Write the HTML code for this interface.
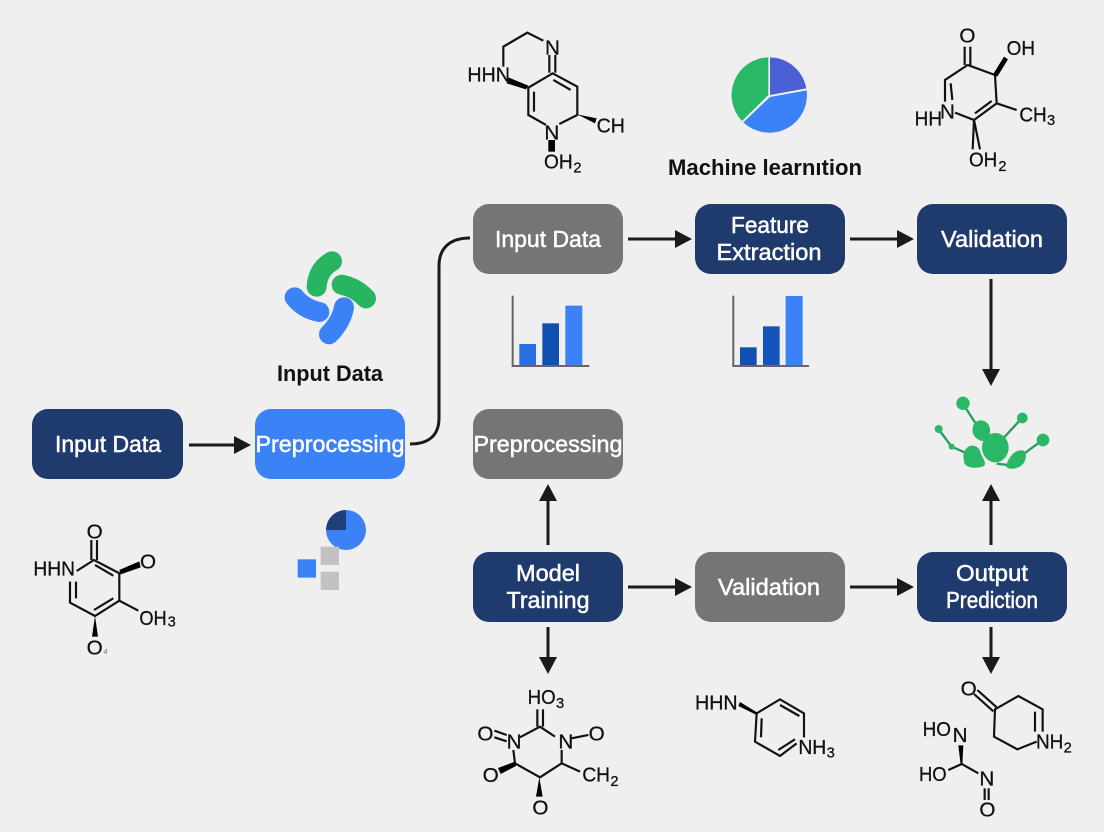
<!DOCTYPE html>
<html>
<head>
<meta charset="utf-8">
<style>
html,body{margin:0;padding:0;background:#efefef;width:1104px;height:832px;overflow:hidden}
svg{display:block}
text{font-family:"Liberation Sans",sans-serif}
.n{font-size:23px;fill:#fff;stroke:#fff;stroke-width:.5px;text-anchor:middle}
.t{font-size:22px;font-weight:bold;fill:#111}
.m line,.m polyline,.m path.l{stroke:#111;stroke-width:6.5;fill:none}
.m path.w{fill:#000;stroke:none}
.m text{font-size:62px;fill:#111;stroke:#111;stroke-width:.8px}
.m text.s{font-size:44px}
.a{stroke:#1a1a1a;stroke-width:3px;fill:none}
.h{fill:#1a1a1a}
</style>
</head>
<body>
<svg width="1104" height="832" viewBox="0 0 1104 832" xmlns="http://www.w3.org/2000/svg">
<rect width="1104" height="832" fill="#efefef"/>

<!-- connectors -->
<path class="a" d="M189 445H238M628 239H679M850 239H901M991 279V374M548 545V496M628 587H679M850 587H901M991 545V496M548 627V662M991 627V662"/>
<path class="a" d="M410 444C428 444 439 436 439 418V266C439 248 450 238 470 238"/>
<g class="h">
<path d="M234 436L251 445L234 454Z"/>
<path d="M675 230L692 239L675 248Z"/>
<path d="M897 230L914 239L897 248Z"/>
<path d="M982 369L991 386L1000 369Z"/>
<path d="M539 501L548 484L557 501Z"/>
<path d="M675 578L692 587L675 596Z"/>
<path d="M897 578L914 587L897 596Z"/>
<path d="M982 501L991 484L1000 501Z"/>
<path d="M539 657L548 674L557 657Z"/>
<path d="M982 657L991 674L1000 657Z"/>
</g>

<!-- nodes -->
<rect x="32" y="409" width="151" height="70" rx="16" fill="#1f3a6d"/>
<rect x="255" y="409" width="150" height="70" rx="16" fill="#3b82f6"/>
<rect x="473" y="204" width="150" height="70" rx="16" fill="#757575"/>
<rect x="695" y="204" width="150" height="70" rx="16" fill="#1f3a6d"/>
<rect x="917" y="204" width="150" height="70" rx="16" fill="#1f3a6d"/>
<rect x="473" y="409" width="150" height="70" rx="16" fill="#757575"/>
<rect x="473" y="552" width="150" height="70" rx="16" fill="#1f3a6d"/>
<rect x="695" y="552" width="150" height="70" rx="16" fill="#757575"/>
<rect x="917" y="552" width="150" height="70" rx="16" fill="#1f3a6d"/>

<text class="n" x="108" y="452" textLength="106" lengthAdjust="spacingAndGlyphs">Input Data</text>
<text class="n" x="330" y="452" textLength="149" lengthAdjust="spacingAndGlyphs">Preprocessing</text>
<text class="n" x="548" y="247" textLength="106" lengthAdjust="spacingAndGlyphs">Input Data</text>
<text class="n" x="770" y="233" textLength="78" lengthAdjust="spacingAndGlyphs">Feature</text>
<text class="n" x="769" y="260" textLength="105" lengthAdjust="spacingAndGlyphs">Extraction</text>
<text class="n" x="992" y="247" textLength="102" lengthAdjust="spacingAndGlyphs">Validation</text>
<text class="n" x="548" y="452" textLength="149" lengthAdjust="spacingAndGlyphs">Preprocessing</text>
<text class="n" x="548" y="581" textLength="64" lengthAdjust="spacingAndGlyphs">Model</text>
<text class="n" x="548" y="608" textLength="83" lengthAdjust="spacingAndGlyphs">Training</text>
<text class="n" x="769" y="595" textLength="102" lengthAdjust="spacingAndGlyphs">Validation</text>
<text class="n" x="992" y="581" textLength="72" lengthAdjust="spacingAndGlyphs">Output</text>
<text class="n" x="992" y="608" textLength="92" lengthAdjust="spacingAndGlyphs">Prediction</text>

<text class="t" x="668" y="175" textLength="194" lengthAdjust="spacingAndGlyphs">Machine learnıtion</text>
<text class="t" x="277" y="381" textLength="106" lengthAdjust="spacingAndGlyphs">Input Data</text>

<!-- pie -->
<g transform="translate(720,45) scale(.3333)">
<path d="M150 37A113 113 0 0 1 259 130L150 150Z" fill="#4a60d4"/>
<path d="M260 136A113 113 0 0 1 70 232L150 156Z" fill="#3b82f6"/>
<path d="M66 228A113 113 0 0 1 145 37L145 150Z" fill="#28b866"/>
</g>

<!-- swirl icon -->
<g transform="translate(270,240) scale(.3333)" fill="none" stroke-width="60" stroke-linecap="round">
<path d="M186 64C158 80 142 105 140 140" stroke="#27b562"/>
<path d="M215 134C245 140 268 154 288 175" stroke="#27b562"/>
<path d="M74 172C92 195 118 210 148 216" stroke="#3b82f6"/>
<path d="M222 202C216 235 200 260 177 283" stroke="#3b82f6"/>
</g>

<!-- pie + squares -->
<g transform="translate(285,500) scale(.3333)">
<circle cx="183" cy="90" r="60" fill="#3b82f6"/>
<path d="M183 90V30A60 60 0 0 0 123 90Z" fill="#1f3f78"/>
<rect x="38" y="178" width="55" height="55" fill="#3b82f6"/>
<rect x="107" y="140" width="55" height="55" fill="#c2c2c2"/>
<rect x="107" y="215" width="55" height="55" fill="#c2c2c2"/>
</g>

<!-- bars -->
<g transform="translate(500,285) scale(.3333)">
<path d="M38 32V243H268" fill="none" stroke="#666" stroke-width="6"/>
<rect x="58" y="177" width="50" height="63" fill="#2a6fe0"/>
<rect x="127" y="115" width="50" height="125" fill="#1150b0"/>
<rect x="196" y="62" width="51" height="178" fill="#3b82f6"/>
<path d="M700 32V243H927" fill="none" stroke="#666" stroke-width="6"/>
<rect x="720" y="187" width="50" height="53" fill="#1150b0"/>
<rect x="789" y="124" width="50" height="116" fill="#1554bb"/>
<rect x="857" y="33" width="51" height="207" fill="#3b82f6"/>
</g>

<!-- green cluster -->
<g transform="translate(920,385) scale(.3333)" fill="#2bb866">
<g stroke="#2a9d5f" stroke-width="7" fill="none">
<path d="M130 58L170 120"/><path d="M305 100L250 160"/><path d="M55 132L95 185L140 205"/><path d="M368 165L300 215"/><path d="M230 236L265 240"/>
</g>
<circle cx="129" cy="55" r="20"/>
<circle cx="307" cy="99" r="16"/>
<circle cx="56" cy="132" r="12"/>
<circle cx="95" cy="185" r="9"/>
<circle cx="369" cy="165" r="19"/>
<ellipse cx="226" cy="188" rx="40" ry="44"/>
<path d="M158 130C160 102 195 98 207 122C216 142 205 170 186 168C168 162 155 150 158 130Z"/>
<path d="M130 212C133 178 170 172 180 198C185 218 202 232 192 243C172 252 138 250 132 232Z"/>
<path d="M258 244C266 212 290 190 312 197C325 210 316 246 285 250C272 253 262 250 258 244Z"/>
</g>

<!-- molecule 1 -->
<g class="m" transform="translate(440,20) scale(.3333)">
<polyline points="190,140 190,80 262,38 310,62"/>
<line x1="328" y1="105" x2="328" y2="158"/><line x1="346" y1="105" x2="346" y2="158"/>
<polyline points="318,315 265,285 265,203 338,160 412,200 412,285 358,312"/>
<line x1="282" y1="215" x2="282" y2="275"/><line x1="340" y1="180" x2="392" y2="210"/>
<path class="w" d="M205 172L265 197L258 208L200 190Z"/>
<path class="w" d="M412 283L470 295L465 310Z"/>
<path class="w" d="M325 360H345V395H325Z"/>
<text x="315" y="103">N</text>
<text x="82" y="185" textLength="128" lengthAdjust="spacingAndGlyphs">HHN</text>
<text x="313" y="358">N</text>
<text x="470" y="338" textLength="85" lengthAdjust="spacingAndGlyphs">CH</text>
<text x="312" y="445" textLength="86" lengthAdjust="spacingAndGlyphs">OH</text><text class="s" x="400" y="458">2</text>
</g>

<!-- molecule 2 -->
<g class="m" transform="translate(890,20) scale(.3333)">
<line x1="224" y1="80" x2="224" y2="135"/><line x1="241" y1="80" x2="241" y2="135"/>
<polyline points="165,245 165,180 233,135 315,165 320,250 252,300 195,278"/>
<line x1="182" y1="190" x2="187" y2="240"/><line x1="255" y1="280" x2="305" y2="243"/>
<line x1="320" y1="250" x2="380" y2="270"/>
<line x1="252" y1="300" x2="248" y2="388"/><line x1="252" y1="300" x2="270" y2="388"/>
<path class="w" d="M308 165L342 110L354 118L322 170Z"/>
<text x="208" y="68">O</text>
<text x="350" y="105" textLength="85" lengthAdjust="spacingAndGlyphs">OH</text>
<text x="74" y="317" textLength="82" lengthAdjust="spacingAndGlyphs">HH</text>
<text x="150" y="295">N</text>
<text x="388" y="305" textLength="82" lengthAdjust="spacingAndGlyphs">CH</text><text class="s" x="471" y="315">3</text>
<text x="237" y="440" textLength="85" lengthAdjust="spacingAndGlyphs">OH</text><text class="s" x="325" y="453">2</text>
</g>

<!-- molecule 3 -->
<g class="m" transform="translate(20,510) scale(.3333)">
<line x1="214" y1="90" x2="214" y2="150"/><line x1="231" y1="90" x2="231" y2="150"/>
<polyline points="170,183 222,150 298,190 298,272 225,318 150,278 150,215"/>
<line x1="225" y1="165" x2="280" y2="197"/><line x1="222" y1="300" x2="280" y2="265"/><line x1="168" y1="215" x2="168" y2="265"/>
<line x1="298" y1="272" x2="355" y2="302"/>
<path class="w" d="M298 180L358 154L362 172L302 193Z"/>
<path class="w" d="M225 318L234 380H216Z"/>
<text x="200" y="85">O</text>
<text x="360" y="176">O</text>
<text x="40" y="197" textLength="125" lengthAdjust="spacingAndGlyphs">HHN</text>
<text x="358" y="345" textLength="82" lengthAdjust="spacingAndGlyphs">OH</text><text class="s" x="443" y="350">3</text>
<text x="200" y="433">O</text>
<text x="250" y="432" style="font-size:22px;font-style:italic;fill:#777;stroke:none">4</text>
</g>

<!-- molecule 4 -->
<g class="m" transform="translate(460,680) scale(.3333)">
<line x1="232" y1="88" x2="232" y2="140"/><line x1="249" y1="88" x2="249" y2="140"/>
<polyline points="180,172 240,140 285,170"/>
<polyline points="305,210 305,250 240,292 165,250 160,210"/>
<line x1="305" y1="250" x2="360" y2="275"/>
<line x1="103" y1="152" x2="140" y2="165"/><line x1="103" y1="172" x2="140" y2="184"/>
<line x1="335" y1="175" x2="385" y2="165"/>
<path class="w" d="M165 245L168 258L122 282L114 264Z"/>
<path class="w" d="M238 292L248 350H228Z"/>
<text x="203" y="72" textLength="84" lengthAdjust="spacingAndGlyphs">HO</text><text class="s" x="288" y="84">3</text>
<text x="52" y="182">O</text>
<text x="140" y="205">N</text>
<text x="295" y="205">N</text>
<text x="386" y="182">O</text>
<text x="68" y="306">O</text>
<text x="217" y="403">O</text>
<text x="367" y="305" textLength="83" lengthAdjust="spacingAndGlyphs">CH</text><text class="s" x="451" y="318">2</text>
</g>

<!-- molecule 5 -->
<g class="m" transform="translate(680,680) scale(.3333)">
<polyline points="350,190 300,228 225,185 230,100 300,58 372,100 372,172"/>
<line x1="245" y1="115" x2="243" y2="172"/><line x1="300" y1="75" x2="358" y2="108"/><line x1="295" y1="210" x2="345" y2="178"/>
<path class="w" d="M175 78L180 66L232 98L228 104Z"/>
<text x="45" y="88" textLength="128" lengthAdjust="spacingAndGlyphs">HHN</text>
<text x="355" y="222" textLength="84" lengthAdjust="spacingAndGlyphs">NH</text><text class="s" x="440" y="232">3</text>
</g>

<!-- molecule 6 -->
<g class="m" transform="translate(900,670) scale(.3333)">
<line x1="222" y1="72" x2="280" y2="124"/><line x1="232" y1="60" x2="290" y2="112"/>
<polyline points="410,215 352,238 282,200 285,118 355,78 428,118 428,185"/>
<line x1="405" y1="125" x2="405" y2="185"/>
<line x1="185" y1="282" x2="145" y2="300"/>
<line x1="185" y1="282" x2="235" y2="310"/>
<line x1="254" y1="355" x2="254" y2="390"/><line x1="266" y1="355" x2="266" y2="390"/>
<path class="w" d="M175 226H190L187 284H182Z"/>
<text x="182" y="76">O</text>
<text x="408" y="236" textLength="82" lengthAdjust="spacingAndGlyphs">NH</text><text class="s" x="491" y="248">2</text>
<text x="68" y="198" textLength="85" lengthAdjust="spacingAndGlyphs">HO</text>
<text x="158" y="216">N</text>
<text x="57" y="333" textLength="83" lengthAdjust="spacingAndGlyphs">HO</text>
<text x="238" y="346">N</text>
<text x="238" y="440">O</text>
</g>
</svg>
</body>
</html>
